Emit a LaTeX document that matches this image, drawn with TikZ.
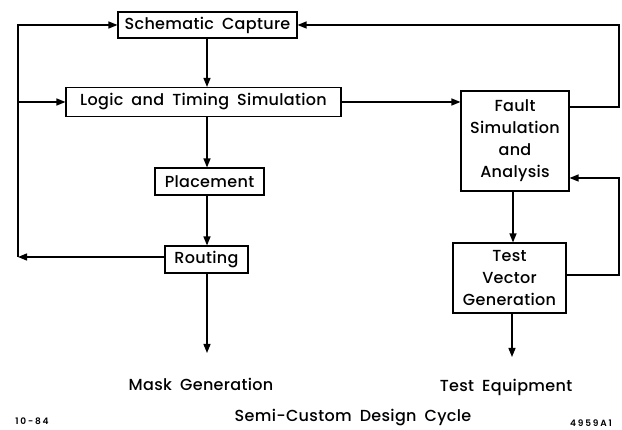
\documentclass[tikz,border=0pt]{standalone}
\usepackage{fontspec}
\setmainfont{Poppins}
\newfontfamily\labfont[LetterSpace=2,WordSpace=1.8]{Poppins Medium}
\newfontfamily\tagfont[LetterSpace=20]{Poppins SemiBold}
\usetikzlibrary{arrows.meta}
\tikzset{
  blk/.style={draw, line width=1.1pt, inner sep=0pt, font=\labfont\fontsize{16}{22}\selectfont, align=center},
  arr/.style={line width=1.3pt, -{Triangle[length=9pt,width=7pt]}},
  lbl/.style={font=\labfont\fontsize{16}{18}\selectfont},
  tag/.style={font=\tagfont\fontsize{9}{10}\selectfont, inner sep=0pt}
}
\begin{document}
\begin{tikzpicture}[x=1pt,y=-1pt]
\useasboundingbox (0,0) rectangle (622,430);
\node[blk, minimum width=179pt, minimum height=26pt] (sc) at (207.5,25) {Schematic Capture};
\node[blk, minimum width=275pt, minimum height=29pt] (lts) at (203.5,102) {Logic and Timing Simulation};
\node[blk, minimum width=109pt, minimum height=27pt] (pl) at (209.5,181.5) {Placement};
\node[blk, minimum width=83pt, minimum height=27pt] (rt) at (206.5,259.5) {Routing};
\node[blk, minimum width=108pt, minimum height=100pt] (fsa) at (515,141) {Fault\\Simulation\\and\\Analysis};
\node[blk, minimum width=113pt, minimum height=70pt] (tvg) at (509.5,278) {Test\\Vector\\Generation};
\node[lbl] (mg) at (201,384) {Mask Generation};
\node[lbl] (te) at (506,387) {Test Equipment};
\node[lbl] (title) at (353,418) {Semi-Custom Design Cycle};
\node[tag] (date) at (32,421) {10-84};
\node[tag] (num) at (591,423) {4959A1};
\coordinate (lb) at (18,257);
\coordinate (lm) at (18,102);
\coordinate (lt) at (18,25);
\coordinate (r1) at (619,107);
\coordinate (r2) at (619,25);
\coordinate (r3) at (619,275);
\coordinate (r4) at (619,178);
\coordinate (mgt) at (207,353);
\coordinate (tet) at (512,357);
% main flow
\draw[arr] (sc.south -| 207,0) -- (lts.north -| 207,0);
\draw[arr] (lts.south -| 207,0) -- (pl.north -| 207,0);
\draw[arr] (pl.south -| 207,0) -- (rt.north -| 207,0);
\draw[arr] (rt.south -| 207,0) -- (mgt);
% left loop
\draw[arr] (rt.west |- lb) -- (lb);
\draw[arr] (lb) -- (lt) -- (sc.west);
\draw[arr] (lm) -- (lts.west);
% to fault
\draw[arr] (lts.east) -- (lts.east -| fsa.west);
% right loops
\draw[arr] (fsa.east |- r1) -- (r1) -- (r2) -- (sc.east);
\draw[arr] (fsa.south -| 513,0) -- (tvg.north -| 513,0);
\draw[arr] (tvg.east |- r3) -- (r3) -- (r4) -- (fsa.east |- r4);
\draw[arr] (tvg.south -| tet) -- (tet);
\end{tikzpicture}
\end{document}
